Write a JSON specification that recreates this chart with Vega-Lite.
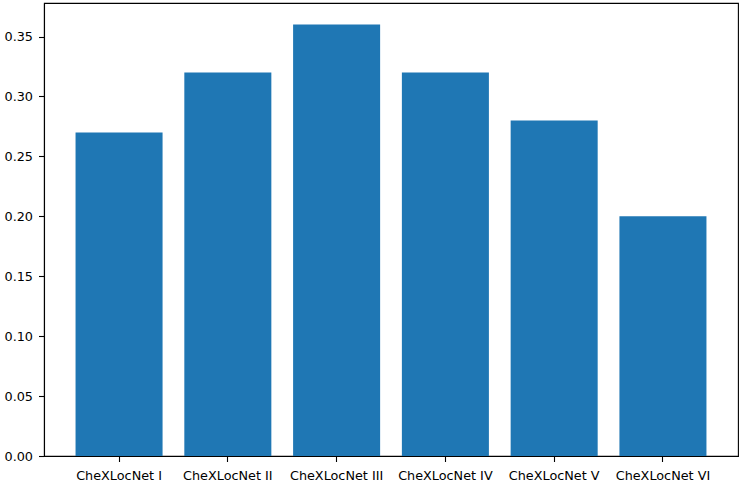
{
  "$schema": "https://vega.github.io/schema/vega-lite/v6.json",
  "autosize": {"type": "none"},
  "width": 694,
  "height": 453,
  "padding": {"left": 44, "top": 3, "right": 7, "bottom": 27},
  "background": "white",
  "config": {
    "view": {"stroke": "black", "strokeWidth": 1.1},
    "axis": {
      "domainColor": "black",
      "domainWidth": 1.1,
      "tickColor": "black",
      "tickWidth": 1.1,
      "tickSize": 5.5,
      "labelFont": "DejaVu Sans",
      "labelFontSize": 12.8,
      "labelColor": "black",
      "grid": false,
      "title": null
    }
  },
  "data": {
    "values": [
      {"model": "CheXLocNet I", "value": 0.27},
      {"model": "CheXLocNet II", "value": 0.32},
      {"model": "CheXLocNet III", "value": 0.36},
      {"model": "CheXLocNet IV", "value": 0.32},
      {"model": "CheXLocNet V", "value": 0.28},
      {"model": "CheXLocNet VI", "value": 0.20}
    ]
  },
  "mark": {"type": "bar", "color": "#1f77b4"},
  "encoding": {
    "x": {
      "field": "model",
      "type": "nominal",
      "sort": null,
      "scale": {"paddingInner": 0.2, "paddingOuter": 0.29},
      "axis": {"labelAngle": 0, "labelPadding": 8}
    },
    "y": {
      "field": "value",
      "type": "quantitative",
      "scale": {"domain": [0, 0.378], "nice": false, "zero": true},
      "axis": {"values": [0, 0.05, 0.1, 0.15, 0.2, 0.25, 0.3, 0.35], "format": ".2f", "labelPadding": 6}
    }
  }
}
